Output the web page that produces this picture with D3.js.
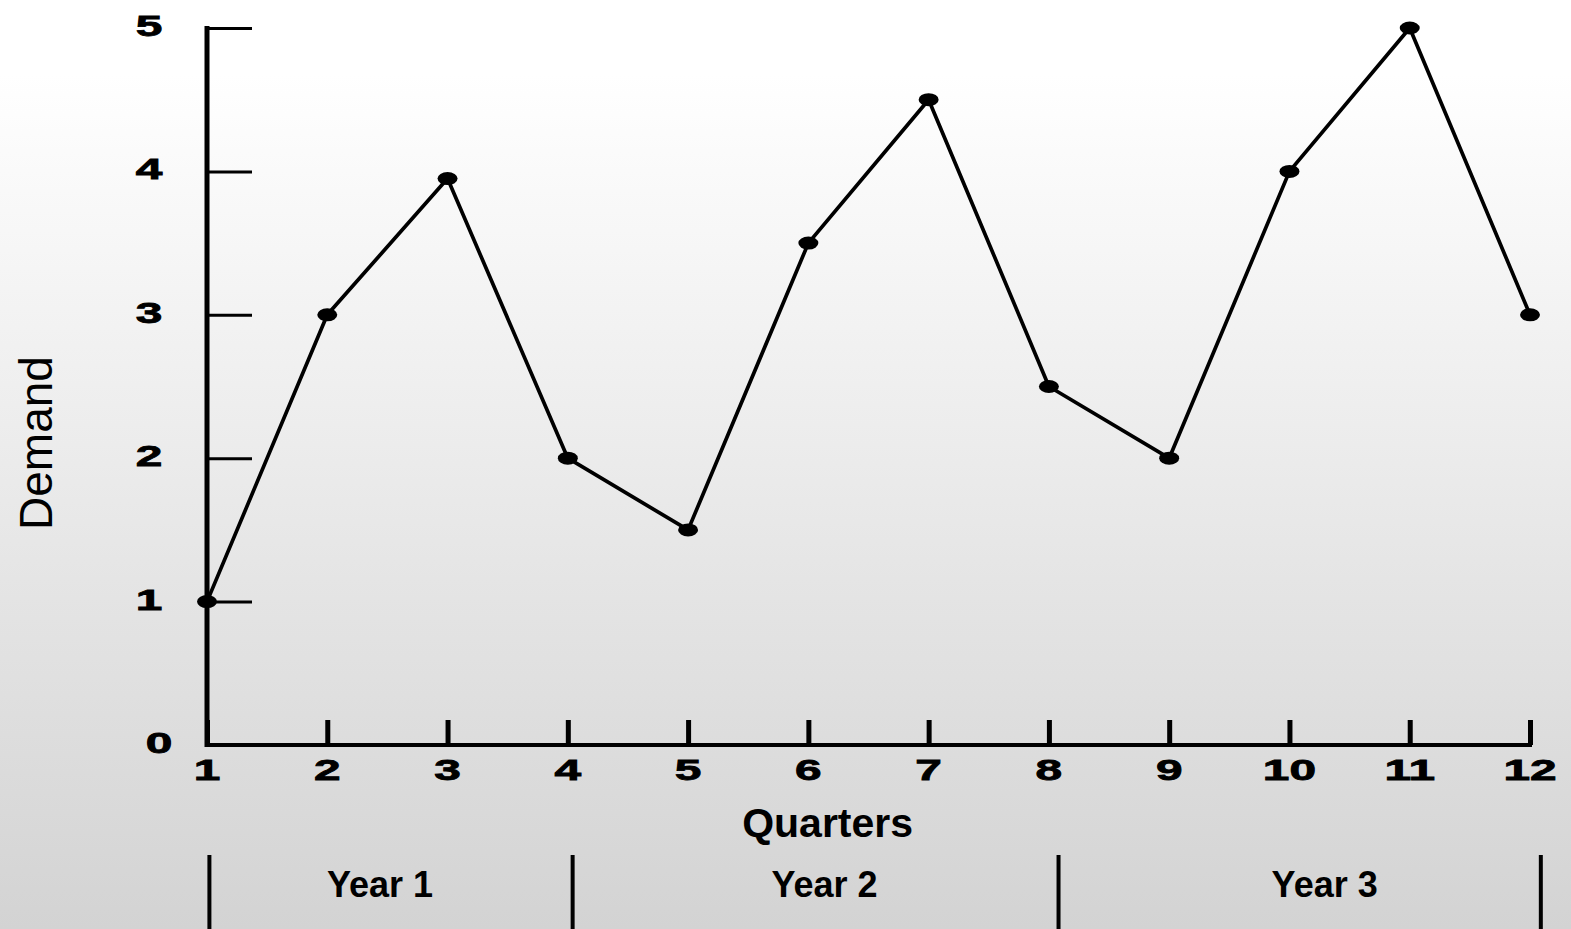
<!DOCTYPE html>
<html>
<head>
<meta charset="utf-8">
<script src="https://cdn.jsdelivr.net/npm/d3@7"></script>
<style>
  html, body { margin: 0; padding: 0; overflow: hidden; }
  svg { display: block; }
</style>
</head>
<body>
<figure id="chart" style="margin:0"></figure>
<script>
var quarters = [1, 2, 3, 4, 5, 6, 7, 8, 9, 10, 11, 12];
var demand = [1, 3, 3.95, 2, 1.5, 3.5, 4.5, 2.5, 2, 4, 5, 3];
var yTicks = [0, 1, 2, 3, 4, 5];
var years = ["Year 1", "Year 2", "Year 3"];
var yearBounds = [1.02, 4.04, 8.08, 12.09];  // quarter positions of the dividers

var dimensions = {
    width: 1571,
    height: 929,
    margin: { top: 28, right: 41, bottom: 184, left: 207 }
};
dimensions.boundedWidth = dimensions.width - dimensions.margin.left - dimensions.margin.right;
dimensions.boundedHeight = dimensions.height - dimensions.margin.top - dimensions.margin.bottom;

var root = d3.select("figure#chart")
    .append("svg")
    .attr("width", dimensions.width)
    .attr("height", dimensions.height);

var grad = root.append("defs").append("linearGradient")
    .attr("id", "bg").attr("x1", 0).attr("y1", 0).attr("x2", 0).attr("y2", 1);
grad.append("stop").attr("offset", "0.08").attr("stop-color", "#ffffff");
grad.append("stop").attr("offset", "1").attr("stop-color", "#d3d3d3");

root.append("rect")
    .attr("width", dimensions.width)
    .attr("height", dimensions.height)
    .attr("fill", "url(#bg)");

var svg = root.append("g")
    .attr("transform", `translate(${dimensions.margin.left},${dimensions.margin.top})`);

var xScale = d3.scaleLinear()
    .domain([1, 12])
    .range([0, dimensions.boundedWidth]);

var yScale = d3.scaleLinear()
    .domain([0, 5])
    .range([dimensions.boundedHeight, 0]);

// tick label style: heavy, stretched digits
function tickText(sel) {
    sel.attr("text-anchor", "middle")
        .style("font-family", "Liberation Sans, Arial, sans-serif")
        .style("font-weight", "bold")
        .style("font-size", "29px")
        .attr("stroke", "#000")
        .attr("stroke-width", 0.8);
}

// y axis: ticks pointing right, labels far left
var yAxis = svg.append("g")
    .call(d3.axisRight(yScale).tickValues(yTicks).tickSize(45).tickFormat(""));
yAxis.select(".domain").remove();
yAxis.selectAll(".tick line").attr("stroke", "#000").attr("stroke-width", 3);
yAxis.selectAll(".tick").filter(d => d === 0).remove();

svg.selectAll(".ylab")
    .data(yTicks)
    .enter()
    .append("text")
    .attr("class", "ylab")
    .attr("transform", d => `translate(${d === 0 ? -48 : -58},${yScale(d) + 8}) scale(1.65,1)`)
    .call(tickText)
    .text(d => d);

svg.append("line")
    .attr("x1", 0).attr("x2", 0)
    .attr("y1", yScale(5) - 2).attr("y2", yScale(0) + 2)
    .attr("stroke", "#000").attr("stroke-width", 5);

// x axis: ticks pointing up
var xAxis = svg.append("g")
    .attr("transform", `translate(0,${dimensions.boundedHeight})`)
    .call(d3.axisTop(xScale).tickValues(quarters).tickSize(25).tickFormat(""));
xAxis.select(".domain").remove();
xAxis.selectAll(".tick line").attr("stroke", "#000").attr("stroke-width", 5);

svg.append("line")
    .attr("x1", 0).attr("x2", xScale(12) + 2)
    .attr("y1", yScale(0)).attr("y2", yScale(0))
    .attr("stroke", "#000").attr("stroke-width", 4);

svg.selectAll(".xlab")
    .data(quarters)
    .enter()
    .append("text")
    .attr("class", "xlab")
    .attr("transform", d => `translate(${xScale(d)},${dimensions.boundedHeight + 35}) scale(1.65,1)`)
    .call(tickText)
    .text(d => d);

// line and markers
var line = d3.line()
    .x((d, i) => xScale(quarters[i]))
    .y(d => yScale(d));

svg.append("path")
    .datum(demand)
    .attr("d", line)
    .attr("fill", "none")
    .attr("stroke", "#000")
    .attr("stroke-width", 3.7)
    .attr("stroke-linejoin", "round");

svg.selectAll(".pt")
    .data(demand)
    .enter()
    .append("ellipse")
    .attr("class", "pt")
    .attr("cx", (d, i) => xScale(quarters[i]))
    .attr("cy", d => yScale(d))
    .attr("rx", 10)
    .attr("ry", 6.5)
    .attr("fill", "#000");

// titles
svg.append("text")
    .attr("x", xScale(6.16))
    .attr("y", dimensions.boundedHeight + 92)
    .attr("text-anchor", "middle")
    .style("font-family", "Liberation Sans, Arial, sans-serif")
    .style("font-weight", "bold")
    .style("font-size", "41px")
    .text("Quarters");

root.append("text")
    .attr("transform", `translate(52,443) rotate(-90)`)
    .attr("text-anchor", "middle")
    .style("font-family", "Liberation Sans, Arial, sans-serif")
    .style("font-size", "46px")
    .text("Demand");

// year bands
svg.selectAll(".ydiv")
    .data(yearBounds)
    .enter()
    .append("line")
    .attr("class", "ydiv")
    .attr("x1", d => xScale(d)).attr("x2", d => xScale(d))
    .attr("y1", dimensions.boundedHeight + 110)
    .attr("y2", dimensions.height)
    .attr("stroke", "#000").attr("stroke-width", 4);

svg.selectAll(".year")
    .data(years)
    .enter()
    .append("text")
    .attr("class", "year")
    .attr("x", (d, i) => (xScale(yearBounds[i]) + xScale(yearBounds[i + 1])) / 2 + ([-11, 9, 25][i]))
    .attr("y", dimensions.boundedHeight + 152)
    .attr("text-anchor", "middle")
    .style("font-family", "Liberation Sans, Arial, sans-serif")
    .style("font-weight", "bold")
    .style("font-size", "36px")
    .text(d => d);
</script>
</body>
</html>
